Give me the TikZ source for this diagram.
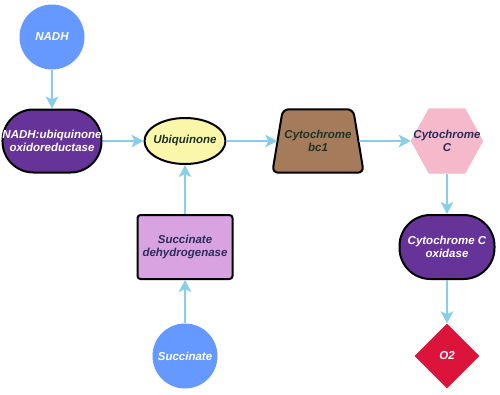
\documentclass[tikz,border=0pt]{standalone}
\usepackage{fontspec}
\setmainfont{Liberation Sans}
\usetikzlibrary{arrows.meta,shapes.geometric,backgrounds}

\definecolor{metblue}{HTML}{6699FF}
\definecolor{cplxpurple}{HTML}{663399}
\definecolor{ubiyellow}{HTML}{FAF6AA}
\definecolor{bcbrown}{HTML}{A67B5B}
\definecolor{cytpink}{HTML}{F6B8CB}
\definecolor{sdhplum}{HTML}{D9A3E2}
\definecolor{oxred}{HTML}{DC143C}
\definecolor{flowblue}{HTML}{87CEEB}
\definecolor{darktext}{HTML}{1F3328}
\definecolor{navytext}{HTML}{2A2D5A}

\begin{document}
\begin{tikzpicture}[x=1pt, y=-1pt, >={Stealth[length=12pt,width=12.5pt,inset=3pt]},
    every node/.style={font=\fontsize{11.5}{13.5}\selectfont\bfseries\itshape, align=center, inner sep=0pt},
    metab/.style={circle, fill=metblue, text=white, minimum size=65pt},
    cplx/.style={rectangle, rounded corners=31pt, draw=black, line width=2pt, fill=cplxpurple, text=white, minimum width=94pt, minimum height=63pt},
    flow/.style={->, draw=flowblue, line width=2.6pt}]
    \useasboundingbox (0,0) rectangle (500,394);

    % Substrates
    \node[metab] (nadh) at (52,37) {NADH};
    \node[metab] (succ) at (185,356) {Succinate};

    % Complexes
    \node[cplx] (ndh) at (52,141) {NADH:ubiquinone\\oxidoreductase};
    \node[rectangle, rounded corners=3pt, draw=black, line width=2pt, fill=sdhplum, text=navytext,
          minimum width=95pt, minimum height=64pt] (sdh) at (185,247) {Succinate\\dehydrogenase};
    \node[ellipse, draw=black, line width=2pt, fill=ubiyellow, text=darktext, inner xsep=-3pt,
          minimum width=80pt, minimum height=46pt] (ubq) at (185,141) {Ubiquinone};
    \node[minimum width=91pt, minimum height=63pt, text=darktext] (bc1) at (318,141) {Cytochrome\\bc1};
    \node[minimum width=72pt, minimum height=65pt, text=navytext] (cytc) at (447,141) {Cytochrome\\C};
    \node[cplx, minimum width=95pt, minimum height=64pt] (cox) at (447,247) {Cytochrome C\\oxidase};
    \node[diamond, fill=oxred, text=white, minimum width=65pt, minimum height=65pt] (o2) at (447,356) {O2};

    % Shapes behind bc1 and Cytochrome C
    \begin{scope}[on background layer]
        \draw[rounded corners=6pt, line width=2pt, fill=bcbrown] (bc1.south west) -- ([xshift=10.5pt]bc1.north west)
            -- ([xshift=-10.5pt]bc1.north east) -- (bc1.south east) -- cycle;
        \fill[cytpink] (cytc.west) -- ([xshift=18pt]cytc.north west) -- ([xshift=-18pt]cytc.north east)
            -- (cytc.east) -- ([xshift=-18pt]cytc.south east) -- ([xshift=18pt]cytc.south west) -- cycle;
    \end{scope}

    % Electron flow
    \draw[flow] (nadh) -- (ndh);
    \draw[flow] (ndh) -- (ubq);
    \draw[flow] (succ) -- (sdh);
    \draw[flow] (sdh) -- (ubq);
    \draw[flow] (ubq) -- ([xshift=5pt]bc1.west);
    \draw[flow] ([xshift=-5pt]bc1.east) -- (cytc);
    \draw[flow] (cytc) -- (cox);
    \draw[flow] (cox) -- (o2);
\end{tikzpicture}
\end{document}
